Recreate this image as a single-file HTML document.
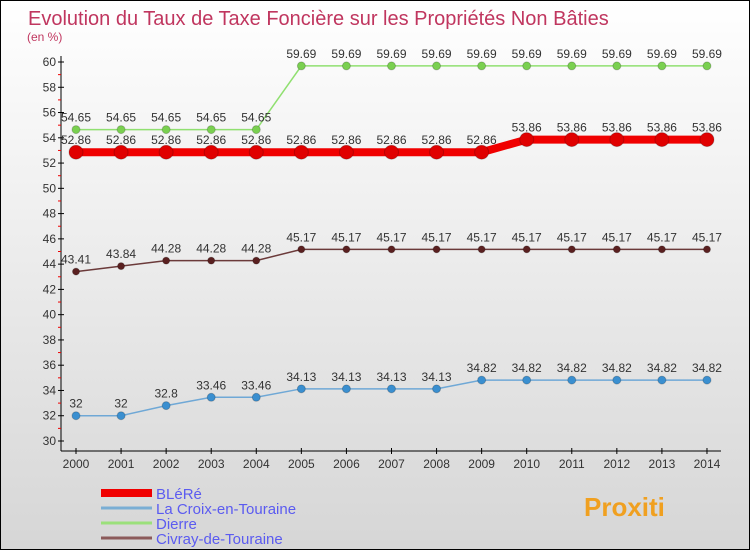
<!DOCTYPE html>
<html><head><meta charset="utf-8"><style>
body{margin:0}
#c{width:748px;height:548px;border:1px solid #000;background:linear-gradient(#fff,#d6d6d6);position:relative;font-family:"Liberation Sans",sans-serif}
svg{position:absolute;left:0;top:0}
</style></head><body>
<div id="c">
<svg id="s" width="750" height="550">
<text x="27" y="24" font-size="20" fill="#c0365f">Evolution du Taux de Taxe Foncière sur les Propriétés Non Bâties</text>
<text x="26" y="40" font-size="12" fill="#c0365f">(en %)</text>
</svg>
</div>
<script>
const years=[2000,2001,2002,2003,2004,2005,2006,2007,2008,2009,2010,2011,2012,2013,2014];
const yTicks=[30,32,34,36,38,40,42,44,46,48,50,52,54,56,58,60];
const names=["BLéRé","La Croix-en-Touraine","Dierre","Civray-de-Touraine"];
const blere=[52.86,52.86,52.86,52.86,52.86,52.86,52.86,52.86,52.86,52.86,53.86,53.86,53.86,53.86,53.86];
const croix=[32,32,32.8,33.46,33.46,34.13,34.13,34.13,34.13,34.82,34.82,34.82,34.82,34.82,34.82];
const dierre=[54.65,54.65,54.65,54.65,54.65,59.69,59.69,59.69,59.69,59.69,59.69,59.69,59.69,59.69,59.69];
const civray=[43.41,43.84,44.28,44.28,44.28,45.17,45.17,45.17,45.17,45.17,45.17,45.17,45.17,45.17,45.17];
const s=document.getElementById('s'),NS="http://www.w3.org/2000/svg";
const X=i=>75+i*45.07, Y=v=>440-(v-30)*(379/30);
function mk(t,a,p){const e=document.createElementNS(NS,t);for(const k in a)e.setAttribute(k,a[k]);(p||s).appendChild(e);return e;}
let ax=mk('line',{x1:60,y1:55,x2:60,y2:450,stroke:'#000'});


let xa=mk('line',{x1:60,y1:450,x2:720,y2:450,stroke:'#000'});


yTicks.forEach(v=>{
 mk('line',{x1:57,x2:63,y1:Y(v),y2:Y(v),stroke:'#000'});
 if(v<60)mk('line',{x1:57,x2:60,y1:Y(v+1),y2:Y(v+1),stroke:'#e00'});
 const t=mk('text',{x:55,y:Y(v)+4,'font-size':12,'text-anchor':'end',fill:'#333'});t.textContent=v;
 
 
});
years.forEach((y,i)=>{
 mk('line',{x1:X(i),x2:X(i),y1:447,y2:453,stroke:'#000'});
 const t=mk('text',{x:X(i),y:467,'font-size':12,'text-anchor':'middle',fill:'#333'});t.textContent=y;
 
 
});
function series(d,col,dot,w,r,nm,above){
 const g=mk('g',{});
 
 
 mk('polyline',{points:d.map((v,i)=>X(i)+','+Y(v)).join(' '),fill:'none',stroke:col,'stroke-width':w},g);
 d.forEach((v,i)=>{
  const c=mk('circle',{cx:X(i),cy:Y(v),r:r,fill:dot,stroke:'rgba(0,0,0,0.2)'},g);
  
  
  const t=mk('text',{x:X(i),y:Y(v)-above,'font-size':12,'text-anchor':'middle',fill:'#333'},g);t.textContent=String(v);
 });
}
series(croix,'#6fa8d6','#3a8fd0',1.5,4,'series-la-croix',8);
series(civray,'#6b3a3a','#5a2020',1.5,3.5,'series-civray',8);
series(dierre,'#90e070','#7ad050',1.5,4,'series-dierre',8);
series(blere,'#f00000','#e00000',8,7,'series-blere',8);
const lc=['#f00000','#7aaed4','#9be07b','#8b5a5a'],lw=[8,3,3,3];
names.forEach((n,i)=>{
 const y=492+i*15;
 const g=mk('g',{});
 
 
 mk('line',{x1:100,x2:151,y1:y,y2:y,stroke:lc[i],'stroke-width':lw[i]},g);
 const t=mk('text',{x:155,y:y+6,'font-size':15,fill:'#5b5bf0'},g);t.textContent=n;
});
const p=mk('text',{x:583,y:515,'font-size':26,'font-weight':'bold',fill:'#f0a020'});
p.textContent='Proxiti';


</script>
</body></html>
